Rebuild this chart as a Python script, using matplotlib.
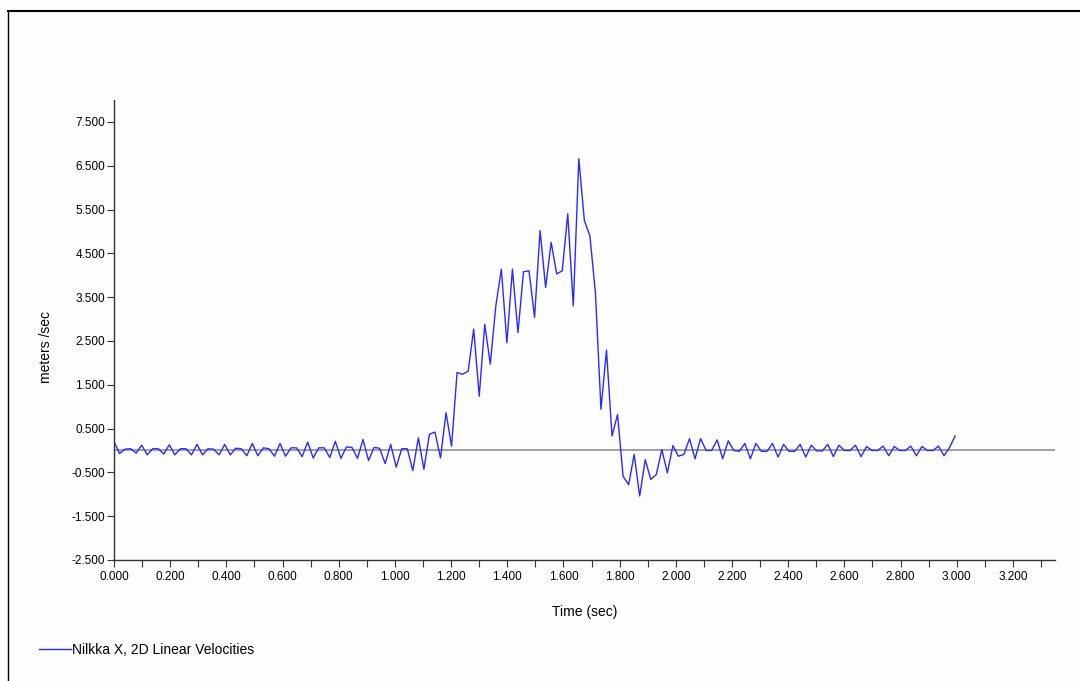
import numpy as np
import matplotlib
matplotlib.use("Agg")
import matplotlib.pyplot as plt
from matplotlib.lines import Line2D
from matplotlib.ticker import MultipleLocator, FormatStrFormatter

# sample spacing (sec) of the velocity trace
dt = 0.0197

# Nilkka X, 2D linear velocity (m/s), one value per sample
velocity = [
    0.21, -0.07, 0.03, 0.04, -0.06, 0.12, -0.10, 0.04, 0.04, -0.08,
    0.13, -0.10, 0.04, 0.04, -0.10, 0.14, -0.10, 0.04, 0.03, -0.10,
    0.14, -0.10, 0.05, 0.04, -0.12, 0.16, -0.12, 0.06, 0.04, -0.13,
    0.16, -0.13, 0.06, 0.06, -0.14, 0.19, -0.17, 0.06, 0.06, -0.16,
    0.21, -0.18, 0.08, 0.07, -0.18, 0.25, -0.23, 0.07, 0.05, -0.30,
    0.14, -0.38, 0.04, 0.04, -0.46, 0.29, -0.43, 0.37, 0.42, -0.17,
    0.86, 0.10, 1.78, 1.74, 1.81, 2.77, 1.24, 2.88, 1.97, 3.30,
    4.14, 2.46, 4.14, 2.69, 4.08, 4.10, 3.04, 5.02, 3.72, 4.75,
    4.03, 4.10, 5.40, 3.30, 6.66, 5.25, 4.90, 3.60, 0.94, 2.29,
    0.33, 0.82, -0.59, -0.78, -0.09, -1.04, -0.21, -0.66, -0.55, 0.02,
    -0.51, 0.11, -0.13, -0.09, 0.27, -0.19, 0.27, 0.00, 0.00, 0.24,
    -0.19, 0.22, 0.00, -0.02, 0.16, -0.19, 0.16, -0.02, -0.02, 0.16,
    -0.15, 0.14, -0.02, -0.02, 0.14, -0.15, 0.12, -0.01, -0.01, 0.14,
    -0.14, 0.12, 0.00, 0.00, 0.12, -0.14, 0.09, 0.00, 0.00, 0.10,
    -0.12, 0.09, 0.00, 0.00, 0.10, -0.12, 0.09, 0.00, 0.00, 0.10,
    -0.12, 0.07, 0.33,
]
time = np.arange(len(velocity)) * dt

plt.rcParams['font.family'] = ['Liberation Sans', 'DejaVu Sans']

fig = plt.figure(figsize=(10.8, 6.81), dpi=100)
fig.patch.set_facecolor('#fdfdfd')

# outer frame (top and left edges visible)
fig.add_artist(Line2D([8 / 1080, 1.0], [1 - 11 / 681, 1 - 11 / 681], color='black', lw=1.5))
fig.add_artist(Line2D([8 / 1080, 8 / 1080], [0.0, 1 - 11 / 681], color='black', lw=1.0))

ax = fig.add_axes([114 / 1080, 1 - 560 / 681, (1055 - 114) / 1080, (560 - 100) / 681])
ax.set_facecolor('#fdfdfd')

ax.axhline(0, color='#999999', lw=1.3, zorder=1)
ax.plot(time, velocity, color='#2a2aff', lw=1.0, zorder=2,
        label='Nilkka X, 2D Linear Velocities')

ax.set_xlim(0, 3.35)
ax.set_ylim(-2.5, 8.0)
ax.xaxis.set_major_locator(MultipleLocator(0.2))
ax.xaxis.set_minor_locator(MultipleLocator(0.1))
ax.xaxis.set_major_formatter(FormatStrFormatter('%.3f'))
ax.set_yticks(np.arange(-2.5, 8.0, 1.0))
ax.yaxis.set_major_formatter(FormatStrFormatter('%.3f'))
ax.tick_params(axis='both', which='both', direction='out', length=5, width=0.8,
               color='#333333', labelsize=8.5, pad=1.5)
ax.tick_params(axis='x', which='major', pad=3)

for side in ['top', 'right']:
    ax.spines[side].set_visible(False)
for side in ['left', 'bottom']:
    ax.spines[side].set_color('#333333')
    ax.spines[side].set_linewidth(1.0)

ax.set_xlabel('Time (sec)', fontsize=10, labelpad=16)
fig.text(46 / 1080, 1 - 347 / 681, 'meters /sec', rotation=90, fontsize=10,
         ha='center', va='center')

fig.legend(loc='center left', bbox_to_anchor=(33 / 1080, 1 - 650 / 681),
           frameon=False, fontsize=10, handlelength=2.3, handletextpad=0.1,
           borderaxespad=0)

fig.savefig('out.png', dpi=100, facecolor=fig.get_facecolor())
